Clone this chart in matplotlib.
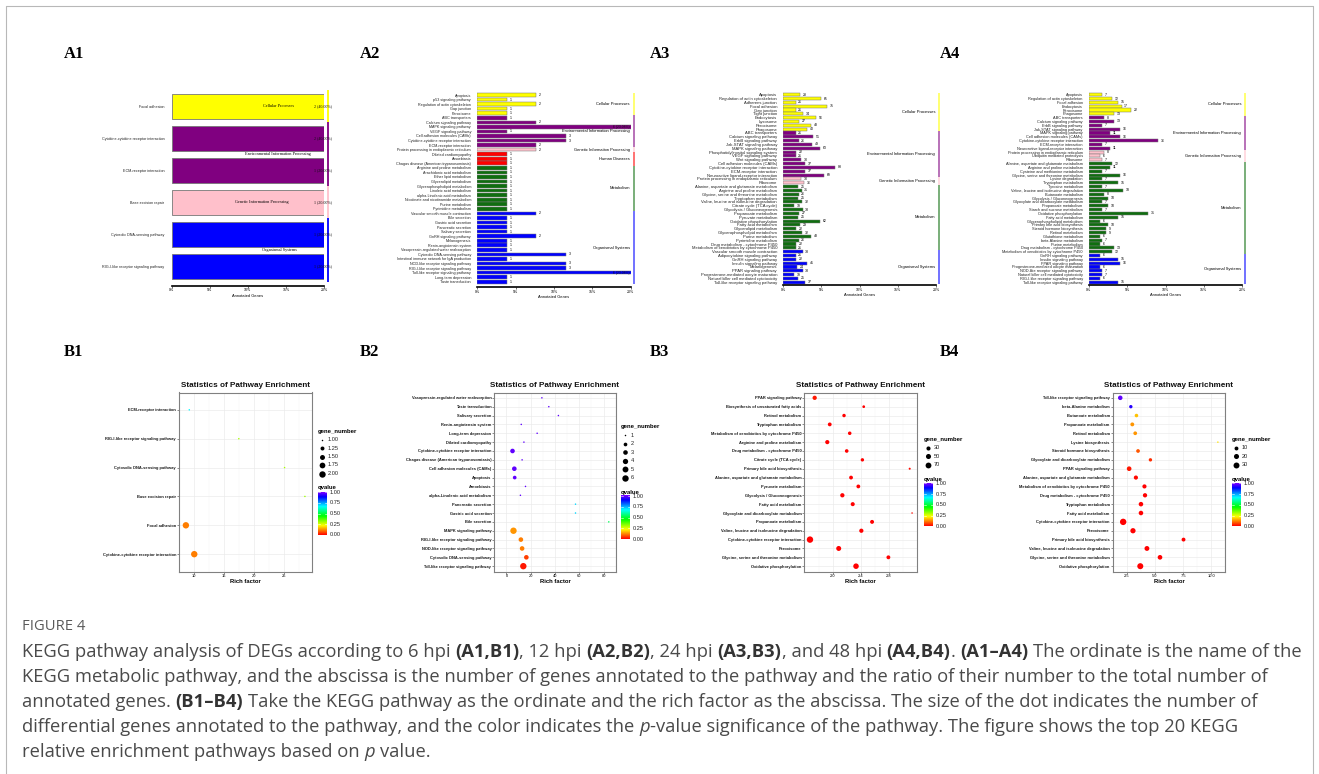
import colorsys
import numpy as np
import matplotlib
matplotlib.use("Agg")
import matplotlib.pyplot as plt
from matplotlib import font_manager
from matplotlib.colors import ListedColormap

plt.rcParams["font.family"] = ["Liberation Sans", "DejaVu Sans"]
SERIF = "Liberation Serif"

# ---------------- data ----------------
CP = "Cellular Processes"
EIP = "Environmental Information Processing"
GIP = "Genetic Information Processing"
HD = "Human Diseases"
MET = "Metabolism"
OS = "Organismal Systems"

CAT_COLORS = {CP: "#FFFF00", EIP: "#800080", GIP: "#FFC0CB",
              HD: "#FF0000", MET: "#0F6E0F", OS: "#0000FF"}

# A1 (6 hpi)
a1_names = ["Focal adhesion", "Cytokine-cytokine receptor interaction",
            "ECM-receptor interaction", "Base excision repair",
            "Cytosolic DNA-sensing pathway", "RIG-I-like receptor signaling pathway"]
a1_counts = [2, 2, 1, 1, 1, 1]
a1_groups = [CP, EIP, EIP, GIP, OS, OS]
a1_total = 5

# A2 (12 hpi)
a2_names = ["Apoptosis", "p53 signaling pathway", "Regulation of actin cytoskeleton",
            "Gap junction", "Peroxisome",
            "ABC transporters", "Calcium signaling pathway", "MAPK signaling pathway",
            "VEGF signaling pathway", "Cell adhesion molecules (CAMs)",
            "Cytokine-cytokine receptor interaction", "ECM-receptor interaction",
            "Protein processing in endoplasmic reticulum",
            "Dilated cardiomyopathy", "Amoebiasis", "Chagas disease (American trypanosomiasis)",
            "Arginine and proline metabolism", "Arachidonic acid metabolism",
            "Ether lipid metabolism", "Glycerolipid metabolism",
            "Glycerophospholipid metabolism", "Linoleic acid metabolism",
            "alpha-Linolenic acid metabolism", "Nicotinate and nicotinamide metabolism",
            "Purine metabolism", "Pyrimidine metabolism",
            "Vascular smooth muscle contraction", "Bile secretion", "Gastric acid secretion",
            "Pancreatic secretion", "Salivary secretion", "GnRH signaling pathway",
            "Melanogenesis", "Renin-angiotensin system",
            "Vasopressin-regulated water reabsorption", "Cytosolic DNA-sensing pathway",
            "Intestinal immune network for IgA production",
            "NOD-like receptor signaling pathway", "RIG-I-like receptor signaling pathway",
            "Toll-like receptor signaling pathway", "Long-term depression",
            "Taste transduction"]
a2_counts = [2, 1, 2, 1, 1,
             1, 2, 6, 1, 3, 3, 2,
             2,
             1, 1, 1,
             1, 1, 1, 1, 1, 1, 1, 1, 1, 1,
             2, 1, 1, 1, 1, 2, 1, 1, 1, 3, 1, 3, 3, 6, 1, 1]
a2_groups = [CP] * 5 + [EIP] * 7 + [GIP] * 1 + [HD] * 3 + [MET] * 10 + [OS] * 16
a2_total = 26

# A3 (24 hpi)
a3_names = ["Apoptosis", "Regulation of actin cytoskeleton", "Adherens junction",
            "Focal adhesion", "Gap junction", "Tight junction", "Endocytosis",
            "Lysosome", "Peroxisome", "Phagosome",
            "ABC transporters", "Calcium signaling pathway", "ErbB signaling pathway",
            "Jak-STAT signaling pathway", "MAPK signaling pathway",
            "Phosphatidylinositol signaling system", "VEGF signaling pathway",
            "Wnt signaling pathway", "Cell adhesion molecules (CAMs)",
            "Cytokine-cytokine receptor interaction", "ECM-receptor interaction",
            "Neuroactive ligand-receptor interaction",
            "Protein processing in endoplasmic reticulum", "Ribosome",
            "Alanine, aspartate and glutamate metabolism", "Arginine and proline metabolism",
            "Glycine, serine and threonine metabolism", "Tryptophan metabolism",
            "Valine, leucine and isoleucine degradation", "Citrate cycle (TCA cycle)",
            "Glycolysis / Gluconeogenesis", "Propanoate metabolism", "Pyruvate metabolism",
            "Oxidative phosphorylation", "Fatty acid metabolism", "Glycerolipid metabolism",
            "Glycerophospholipid metabolism", "Purine metabolism", "Pyrimidine metabolism",
            "Drug metabolism - cytochrome P450",
            "Metabolism of xenobiotics by cytochrome P450",
            "Vascular smooth muscle contraction", "Adipocytokine signaling pathway",
            "GnRH signaling pathway", "Insulin signaling pathway", "Melanogenesis",
            "PPAR signaling pathway", "Progesterone-mediated oocyte maturation",
            "Natural killer cell mediated cytotoxicity",
            "Toll-like receptor signaling pathway"]
a3_counts = [28, 65, 21, 75, 21, 34, 56, 27, 48, 40,
             21, 51, 26, 49, 63, 22, 21, 30, 37, 88, 37, 69,
             30, 36,
             25, 31, 26, 25, 32, 19, 33, 27, 25, 62, 29, 22, 32, 48, 26, 22, 21,
             33, 21, 22, 41, 24, 33, 19, 25, 37]
a3_groups = [CP] * 10 + [EIP] * 12 + [GIP] * 2 + [MET] * 17 + [OS] * 9
a3_total = 1300

# A4 (48 hpi)
a4_names = ["Apoptosis", "Regulation of actin cytoskeleton", "Focal adhesion",
            "Endocytosis", "Peroxisome", "Phagosome",
            "ABC transporters", "Calcium signaling pathway", "ErbB signaling pathway",
            "Jak-STAT signaling pathway", "MAPK signaling pathway",
            "Cell adhesion molecules (CAMs)", "Cytokine-cytokine receptor interaction",
            "ECM-receptor interaction", "Neuroactive ligand-receptor interaction",
            "Protein processing in endoplasmic reticulum", "Ubiquitin mediated proteolysis",
            "Ribosome",
            "Alanine, aspartate and glutamate metabolism", "Arginine and proline metabolism",
            "Cysteine and methionine metabolism", "Glycine, serine and threonine metabolism",
            "Lysine degradation", "Tryptophan metabolism", "Tyrosine metabolism",
            "Valine, leucine and isoleucine degradation", "Butanoate metabolism",
            "Glycolysis / Gluconeogenesis", "Glyoxylate and dicarboxylate metabolism",
            "Propanoate metabolism", "Starch and sucrose metabolism",
            "Oxidative phosphorylation", "Fatty acid metabolism",
            "Glycerophospholipid metabolism", "Primary bile acid biosynthesis",
            "Steroid hormone biosynthesis", "Retinol metabolism", "Glutathione metabolism",
            "beta-Alanine metabolism", "Purine metabolism",
            "Drug metabolism - cytochrome P450",
            "Metabolism of xenobiotics by cytochrome P450",
            "GnRH signaling pathway", "Insulin signaling pathway", "PPAR signaling pathway",
            "Progesterone-mediated oocyte maturation", "NOD-like receptor signaling pathway",
            "Natural killer cell mediated cytotoxicity",
            "RIG-I-like receptor signaling pathway", "Toll-like receptor signaling pathway"]
a4_counts = [7, 12, 15, 17, 22, 13,
             8, 13, 7, 16, 11, 16, 36, 7, 11,
             8, 6, 7,
             12, 11, 7, 16, 7, 15, 7, 18, 8, 10, 7, 10, 7, 31, 15, 6, 10, 9, 9, 6, 7, 6,
             13, 12,
             6, 15, 16, 6, 7, 7, 6, 15]
a4_groups = [CP] * 6 + [EIP] * 9 + [GIP] * 3 + [MET] * 24 + [OS] * 8
a4_total = 400

# B1
b1_names = ["ECM-receptor interaction", "RIG-I-like receptor signaling pathway",
            "Cytosolic DNA-sensing pathway", "Base excision repair", "Focal adhesion",
            "Cytokine-cytokine receptor interaction"]
b1_rich = [9.17, 17.45, 25.1, 28.5, 8.6, 10.0]
b1_genes = [1, 1, 1, 1, 2, 2]
b1_q = [0.67, 0.30, 0.30, 0.31, 0.11, 0.11]

# B2
b2_names = ["Vasopressin-regulated water reabsorption", "Taste transduction",
            "Salivary secretion", "Renin-angiotensin system", "Long-term depression",
            "Dilated cardiomyopathy", "Cytokine-cytokine receptor interaction",
            "Chagas disease (American trypanosomiasis)", "Cell adhesion molecules (CAMs)",
            "Apoptosis", "Amoebiasis", "alpha-Linolenic acid metabolism",
            "Pancreatic secretion", "Gastric acid secretion", "Bile secretion",
            "MAPK signaling pathway", "RIG-I-like receptor signaling pathway",
            "NOD-like receptor signaling pathway", "Cytosolic DNA-sensing pathway",
            "Toll-like receptor signaling pathway"]
b2_rich = [29.2, 34.9, 42.8, 12.2, 25.3, 14.4, 5.0, 12.9, 6.5, 6.8,
           15.7, 11.5, 56.9, 56.9, 84.3, 5.8, 11.9, 12.9, 16.4, 13.9]
b2_genes = [1, 1, 1, 1, 1, 1, 3, 1, 3, 2, 1, 1, 1, 1, 1, 6, 3, 3, 3, 6]
b2_q = [0.97, 0.97, 0.97, 0.97, 0.97, 0.97, 0.97, 0.97, 0.97, 0.97,
        0.97, 0.97, 0.70, 0.70, 0.52, 0.13, 0.11, 0.11, 0.055, 0.02]

# B3
b3_names = ["PPAR signaling pathway", "Biosynthesis of unsaturated fatty acids",
            "Retinol metabolism", "Tryptophan metabolism",
            "Metabolism of xenobiotics by cytochrome P450", "Arginine and proline metabolism",
            "Drug metabolism - cytochrome P450", "Citrate cycle (TCA cycle)",
            "Primary bile acid biosynthesis", "Alanine, aspartate and glutamate metabolism",
            "Pyruvate metabolism", "Glycolysis / Gluconeogenesis", "Fatty acid metabolism",
            "Glyoxylate and dicarboxylate metabolism", "Propanoate metabolism",
            "Valine, leucine and isoleucine degradation",
            "Cytokine-cytokine receptor interaction", "Peroxisome",
            "Glycine, serine and threonine metabolism", "Oxidative phosphorylation"]
b3_rich = [1.744, 2.444, 2.163, 1.959, 2.244, 1.924, 2.201, 2.425, 3.10, 2.263,
           2.367, 2.139, 2.287, 3.134, 2.563, 2.41, 1.677, 2.087, 2.796, 2.334]
b3_genes = [33, 12, 20, 25, 21, 31, 22, 19, 8, 25, 25, 33, 29, 7, 27, 32, 88, 48, 26, 62]
b3_q = [0.02, 0.0, 0.0, 0.0, 0.0, 0.0, 0.0, 0.0, 0.01, 0.0,
        0.0, 0.0, 0.0, 0.01, 0.0, 0.0, 0.0, 0.0, 0.0, 0.0]

# B4
b4_names = ["Toll-like receptor signaling pathway", "beta-Alanine metabolism",
            "Butanoate metabolism", "Propanoate metabolism", "Retinol metabolism",
            "Lysine biosynthesis", "Steroid hormone biosynthesis",
            "Glyoxylate and dicarboxylate metabolism", "PPAR signaling pathway",
            "Alanine, aspartate and glutamate metabolism",
            "Metabolism of xenobiotics by cytochrome P450",
            "Drug metabolism - cytochrome P450", "Tryptophan metabolism",
            "Fatty acid metabolism", "Cytokine-cytokine receptor interaction", "Peroxisome",
            "Primary bile acid biosynthesis", "Valine, leucine and isoleucine degradation",
            "Glycine, serine and threonine metabolism", "Oxidative phosphorylation"]
b4_rich = [1.92, 2.86, 3.36, 2.99, 3.25, 10.59, 3.50, 4.60, 2.71, 3.31,
           4.07, 4.12, 3.76, 3.76, 2.18, 3.05, 7.54, 4.29, 5.45, 3.70]
b4_genes = [15, 7, 8, 10, 9, 2, 9, 7, 16, 12, 12, 13, 15, 15, 36, 22, 10, 18, 16, 31]
b4_q = [0.97, 0.92, 0.17, 0.13, 0.13, 0.20, 0.075, 0.04, 0.02, 0.01,
        0.0, 0.0, 0.0, 0.0, 0.0, 0.0, 0.0, 0.0, 0.0, 0.0]

caption_lines = [
    [("KEGG pathway analysis of DEGs according to 6 hpi ", ""), ("(A1,B1)", "b"),
     (", 12 hpi ", ""), ("(A2,B2)", "b"), (", 24 hpi ", ""), ("(A3,B3)", "b"),
     (", and 48 hpi ", ""), ("(A4,B4)", "b"), (". ", ""), ("(A1\u2013A4)", "b"),
     (" The ordinate is the name of the", "")],
    [("KEGG metabolic pathway, and the abscissa is the number of genes annotated to the "
      "pathway and the ratio of their number to the total number of", "")],
    [("annotated genes. ", ""), ("(B1\u2013B4)", "b"),
     (" Take the KEGG pathway as the ordinate and the rich factor as the abscissa. "
      "The size of the dot indicates the number of", "")],
    [("differential genes annotated to the pathway, and the color indicates the ", ""),
     ("p", "i"), ("-value significance of the pathway. The figure shows the top 20 KEGG", "")],
    [("relative enrichment pathways based on ", ""), ("p", "i"), (" value.", "")],
]

# ---------------- figure ----------------
W, H = 1319, 774
fig = plt.figure(figsize=(W / 100, H / 100), dpi=100)
fig.patch.set_facecolor("white")

ov = fig.add_axes([0, 0, 1, 1])
ov.set_xlim(0, W)
ov.set_ylim(H, 0)
ov.axis("off")

QCMAP = ListedColormap([colorsys.hsv_to_rgb(0.75 * i / 255, 1, 1) for i in range(256)])


def px_axes(x0, y0, x1, y1):
    return fig.add_axes([x0 / W, 1 - y1 / H, (x1 - x0) / W, (y1 - y0) / H])


def runs(groups):
    out, start = [], 0
    for i in range(1, len(groups) + 1):
        if i == len(groups) or groups[i] != groups[start]:
            out.append((groups[start], start, i - 1))
            start = i
    return out


A1_CAT_X = {CP: 0.70, EIP: 0.70, GIP: 0.59, OS: 0.71}


def bar_panel(x0, x1, c0, c1, yax, names, counts, groups, total, fs, a1=False):
    n = len(names)
    p = (c1 - c0) / (n - 1)
    ax = px_axes(x0, c0 - 0.6 * p, x1, yax)
    ax.set_xlim(0, 20)
    ax.set_ylim(n - 1 + (yax - c1) / p, -0.6)
    pct = np.asarray(counts, float) / total * 100
    ax.barh(np.arange(n), pct, height=0.8, color=[CAT_COLORS[g] for g in groups],
            edgecolor="#777777", linewidth=0.6 if a1 else 0.35)
    for side in ("top", "right", "left"):
        ax.spines[side].set_visible(False)
    ax.spines["bottom"].set_linewidth(1.2)
    ax.set_yticks(np.arange(n))
    ax.set_yticklabels(names, fontsize=fs, color="#222222")
    ax.tick_params(axis="y", length=0, pad=5.3 if a1 else 4.5)
    ax.set_xticks([0, 5, 10, 15, 20])
    ax.set_xticklabels(["0%", "5%", "10%", "15%", "20%"], fontsize=2.6)
    ax.tick_params(axis="x", length=1.2, width=0.4, pad=0.8)
    ax.set_xlabel("Annotated Genes", fontsize=2.9, labelpad=1)
    blend = ax.get_yaxis_transform()
    for i, (c, v) in enumerate(zip(counts, pct)):
        if v >= 20:
            ax.text(1.05 if a1 else 0.99, i, f"{c} ({v:.2f}%)", transform=blend,
                    ha="right", va="center", fontsize=3.0 if a1 else 2.4,
                    color="#111111", family=SERIF if a1 else None)
        else:
            ax.text(v + 0.35, i, str(c), ha="left", va="center", fontsize=2.5)
    lx = 1 + (4 if a1 else 3.3) / (x1 - x0)
    for g, s, e in runs(groups):
        ax.plot([lx, lx], [s - 0.5, e + 0.5], transform=blend, color=CAT_COLORS[g],
                alpha=1 if a1 else 0.6, lw=1.3, clip_on=False, solid_capstyle="butt")
        ym = (s + e) / 2
        if a1:
            ax.text(A1_CAT_X[g], ym, g, transform=blend, ha="center", va="center",
                    fontsize=3.1, family=SERIF)
        else:
            ax.text(0.995, ym, g, transform=blend, ha="right", va="center", fontsize=2.9)
    return ax


def diam(g, gmin, gmax):
    return 1.5 + 4.9 * np.sqrt((np.asarray(g, float) - gmin) / (gmax - gmin))


def dot_panel(x0, x1, names, rich, genes, qv, xlim, xticks, xlabels,
              lx, gy, leg_vals, leg_labels):
    top, bot = 392.5, 571.5
    ax = px_axes(x0, top, x1, bot)
    n = len(names)
    gmin, gmax = min(genes), max(genes)
    ax.scatter(rich, np.arange(n), s=(diam(genes, gmin, gmax) * 0.72) ** 2, c=qv,
               cmap=QCMAP, vmin=0, vmax=1, linewidths=0, zorder=3)
    ax.set_xlim(*xlim)
    ax.set_ylim(n - 1 + 0.6, -0.6)
    ax.set_yticks(np.arange(n))
    ax.set_yticklabels(names, fontsize=2.9, fontweight="bold", color="#1a1a1a")
    ax.set_xticks(xticks)
    ax.set_xticklabels(xlabels, fontsize=2.9)
    mids = [(a + b) / 2 for a, b in zip(xticks[:-1], xticks[1:])]
    step = xticks[1] - xticks[0]
    mids = [xticks[0] - step / 2] + mids + [xticks[-1] + step / 2]
    ax.set_xticks(mids, minor=True)
    ax.tick_params(axis="x", which="minor", length=0)
    ax.tick_params(axis="both", which="major", length=1.3, width=0.4, pad=0.8,
                   color="#333333")
    ax.grid(True, which="major", color="#ebebeb", lw=0.5)
    ax.grid(True, which="minor", axis="x", color="#f3f3f3", lw=0.3)
    ax.set_axisbelow(True)
    for sp in ax.spines.values():
        sp.set_color("#808080")
        sp.set_linewidth(0.8)
    ax.set_xlabel("Rich factor", fontsize=4.2, fontweight="bold", labelpad=0.6)
    ov.text((x0 + x1) / 2, 385.7, "Statistics of Pathway Enrichment", fontsize=5.9,
            fontweight="bold", ha="center", va="center", color="#111111")

    # legend: gene_number
    ov.text(lx, gy, "gene_number", fontsize=4.3, fontweight="bold", ha="left", va="center")
    yy = gy
    for v, lab in zip(leg_vals, leg_labels):
        yy += 8.5
        ov.scatter([lx + 3.8], [yy], s=(diam(v, gmin, gmax) * 0.72) ** 2, color="black",
                   linewidths=0)
        ov.text(lx + 10, yy, lab, fontsize=4.1, ha="left", va="center", color="#222222")
    qy = yy + 14.5
    ov.text(lx, qy, "qvalue", fontsize=4.3, fontweight="bold", ha="left", va="center")
    ct, cb, cw = qy + 4, qy + 47, 8.5
    grad = np.linspace(0, 1, 256).reshape(-1, 1)
    ov.imshow(grad, extent=[lx, lx + cw, cb, ct], origin="lower", cmap=QCMAP,
              aspect="auto", interpolation="bilinear")
    for q in (0, 0.25, 0.5, 0.75, 1.0):
        yq = cb - q * (cb - ct)
        ov.plot([lx, lx + 1.5], [yq, yq], color="white", lw=0.4)
        ov.plot([lx + cw - 1.5, lx + cw], [yq, yq], color="white", lw=0.4)
        ov.text(lx + cw + 3, yq, f"{q:.2f}", fontsize=4.1, ha="left", va="center",
                color="#222222")
    return ax


bar_panel(171.7, 324, 106.3, 266.3, 285.7, a1_names, a1_counts, a1_groups, a1_total, 2.7, a1=True)
bar_panel(477.3, 630.7, 95, 281.7, 287.3, a2_names, a2_counts, a2_groups, a2_total, 2.7)
bar_panel(783.3, 936, 94.7, 282.3, 285.3, a3_names, a3_counts, a3_groups, a3_total, 2.95)
bar_panel(1089, 1242, 94.7, 282.3, 285.3, a4_names, a4_counts, a4_groups, a4_total, 2.8)

dot_panel(179, 311.5, b1_names, b1_rich, b1_genes, b1_q, (7.45, 29.6), [10, 15, 20, 25],
          ["10", "15", "20", "25"], 318, 431, [1, 1.25, 1.5, 1.75, 2],
          ["1.00", "1.25", "1.50", "1.75", "2.00"])
dot_panel(494.3, 615.7, b2_names, b2_rich, b2_genes, b2_q, (-0.7, 89.3), [0, 20, 40, 60, 80],
          ["0", "20", "40", "60", "80"], 621, 426.7, [1, 2, 3, 4, 5, 6],
          ["1", "2", "3", "4", "5", "6"])
dot_panel(804.3, 916.7, b3_names, b3_rich, b3_genes, b3_q, (1.596, 3.2), [2.0, 2.4, 2.8],
          ["2.0", "2.4", "2.8"], 924, 439.3, [30, 50, 70], ["30", "50", "70"])
dot_panel(1112.7, 1225.3, b4_names, b4_rich, b4_genes, b4_q, (1.5, 11.04),
          [2.5, 5.0, 7.5, 10.0], ["2.5", "5.0", "7.5", "10.0"], 1232, 439.3,
          [10, 20, 30], ["10", "20", "30"])

ov.set_xlim(0, W)
ov.set_ylim(H, 0)

# panel letters
for lab, x, y in [("A1", 64, 54), ("A2", 360, 54), ("A3", 650, 54), ("A4", 940, 54),
                  ("B1", 64, 352), ("B2", 360, 352), ("B3", 650, 352), ("B4", 940, 352)]:
    ov.text(x, y, lab, fontsize=12, fontweight="bold", family=SERIF, ha="left",
            va="center", color="black")

# frame
ov.plot([6, 6, 1313, 1313], [H + 5, 6, 6, H + 5], color="#b8b8b8", lw=0.8, clip_on=False)

# caption
avail = {f.name for f in font_manager.fontManager.ttflist}
CAP_FONT = "Liberation Sans Narrow" if "Liberation Sans Narrow" in avail else "Open Sans"
ren = fig.canvas.get_renderer()


def tw(txt, size, fmt):
    t = ov.text(0, 0, txt, fontsize=size, family=CAP_FONT,
                fontweight="bold" if "b" in fmt else "normal",
                fontstyle="italic" if "i" in fmt else "normal")
    w = t.get_window_extent(renderer=ren).width
    t.remove()
    return w


def adv(txt, size, fmt):
    return tw("|" + txt + "|", size, fmt) - tw("||", size, fmt)


def draw_line(parts, x, y, size, color="#4a4a4a"):
    for txt, fmt in parts:
        lead = len(txt) - len(txt.lstrip(" "))
        off = adv(" " * lead, size, fmt) if lead else 0
        ov.text(x + off, y, txt.strip(" "), fontsize=size, family=CAP_FONT,
                fontweight="bold" if "b" in fmt else "normal",
                fontstyle="italic" if "i" in fmt else "normal",
                color="#333333" if "b" in fmt else color, ha="left", va="baseline")
        x += adv(txt, size, fmt)


base = sum(adv(t, 10, f) for t, f in caption_lines[0])
cap_size = 10 * 1281 / base
fig_size = 10 * 63 / tw("FIGURE 4", 10, "")
ov.text(22, 626, "FIGURE 4", fontsize=fig_size, family=CAP_FONT, color="#5a5a5a",
        ha="left", va="center")
for k, parts in enumerate(caption_lines):
    draw_line(parts, 22, 657 + 25 * k, cap_size)

fig.savefig("out.png", dpi=100, facecolor="white")
